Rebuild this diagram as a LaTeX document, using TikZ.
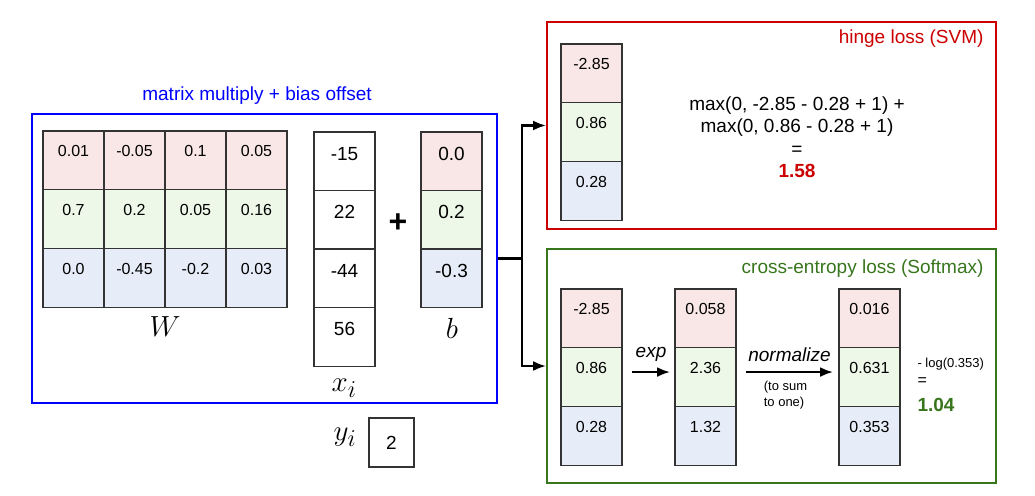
\documentclass[tikz,border=0pt]{standalone}
\usepackage{fontspec}
\setmainfont{Liberation Sans}
\usetikzlibrary{arrows.meta,positioning}
\definecolor{Ink}{HTML}{333333}
\definecolor{MmBlue}{HTML}{0000FF}
\definecolor{SvmRed}{HTML}{CC0000}
\definecolor{SmGreen}{HTML}{38761D}
\definecolor{TintR}{HTML}{F9E7E7}
\definecolor{TintG}{HTML}{EDF8E8}
\definecolor{TintB}{HTML}{E7EDF8}
\newcommand{\mlabel}[1]{\scalebox{1.17}{\fontsize{24.88}{26}\selectfont$#1$}}

\begin{document}
\begin{tikzpicture}[x=1pt,y=-1pt,
  cell/.style={draw=Ink,line width=1.2pt,fill=white,minimum width=61pt,minimum height=58.7pt,inner sep=0pt,outer sep=0pt,anchor=north,font=\fontsize{16}{18}\selectfont,text height=12pt,text depth=19pt},
  cellb/.style={cell,font=\fontsize{19}{22}\selectfont,text height=14pt,text depth=16pt},
  frm/.style={draw=#1,line width=2pt,inner sep=0pt},
  ttl/.style={font=\fontsize{19}{22}\selectfont},
  ln/.style={line width=2.2pt},
  a/.style={ln,-{Latex[length=13pt,width=10pt]}}]
  \useasboundingbox (0,0) rectangle (1035,495);
  % frames
  \node[frm=MmBlue,minimum width=465pt,minimum height=289pt] (mm) at (264.5,258.5) {};
  \node[frm=SvmRed,minimum width=449pt,minimum height=207pt] (svm) at (771.5,125.5) {};
  \node[frm=SmGreen,minimum width=449pt,minimum height=234pt] (sm) at (771.5,366) {};
  \node[ttl,text=MmBlue] (mmt) at (257,96) {matrix multiply + bias offset};
  \node[ttl,text=SvmRed,anchor=east] (svmt) at ([xshift=-10pt,yshift=-18pt]svm.north east) {hinge loss (SVM)};
  \node[ttl,text=SmGreen,anchor=east] (smt) at ([xshift=-10pt,yshift=-21pt]sm.north east) {cross-entropy loss (Softmax)};
  % W, x_i, b
  \foreach \tint/\vals [count=\row] in {TintR/{0.01,-0.05,0.1,0.05},TintG/{0.7,0.2,0.05,0.16},TintB/{0.0,-0.45,-0.2,0.03}}
    \foreach \v [count=\col] in \vals
      \node[cell,fill=\tint] (w\row\col) at ({12.5+61*\col},{131+58.7*(\row-1)}) {\v};
  \foreach \v [count=\row] in {-15,22,-44,56}
    \node[cellb] (x\row) at (344.5,{132+58.5*(\row-1)}) {\v};
  \foreach \v/\tint [count=\row] in {0.0/TintR,0.2/TintG,-0.3/TintB}
    \node[cellb,fill=\tint] (b\row) at (451.5,{132+58.5*(\row-1)}) {\v};
  \node[font=\fontsize{32}{34}\selectfont\bfseries] (plus) at (398,223) {+};
  \node (wl) at (165,327) {\mlabel{W}}; \node (xl) at (344,388) {\mlabel{x_i}}; \node (bl) at (452,328) {\mlabel{b}};
  \node (yl) at (345,437) {\mlabel{y_i}};
  \node[draw=Ink,line width=1.2pt,minimum width=45pt,minimum height=49pt,font=\fontsize{19}{22}\selectfont] (yv) at (391.5,442.5) {2};
  % scores
  \foreach \v/\tint [count=\row] in {-2.85/TintR,0.86/TintG,0.28/TintB}
    \node[cell,fill=\tint] (sv\row) at (591.5,{44+58.7*(\row-1)}) {\v};
  \node[ttl,align=center,font=\fontsize{19}{22.5}\selectfont] (hl) at (797,137) {max(0, -2.85 - 0.28 + 1) +\\max(0, 0.86 - 0.28 + 1)\\=\\\textcolor{SvmRed}{\bfseries 1.58}};
  \foreach \v/\tint [count=\row] in {-2.85/TintR,0.86/TintG,0.28/TintB}
    \node[cell,fill=\tint] (ce\row) at (591.5,{289+58.7*(\row-1)}) {\v};
  \foreach \v/\tint [count=\row] in {0.058/TintR,2.36/TintG,1.32/TintB}
    \node[cell,fill=\tint] (ex\row) at (705.5,{289+58.7*(\row-1)}) {\v};
  \foreach \v/\tint [count=\row] in {0.016/TintR,0.631/TintG,0.353/TintB}
    \node[cell,fill=\tint] (pr\row) at (869.5,{289+58.7*(\row-1)}) {\v};
  \node[anchor=west,font=\fontsize{13}{15}\selectfont] (nll) at (914,364) {- log(0.353)};
  \node[anchor=west,font=\fontsize{16}{18}\selectfont] (eq) at (914,382) {=};
  \node[anchor=west,font=\fontsize{19}{22}\selectfont\bfseries,text=SmGreen] (ce) at (914,405) {1.04};
  % connectors
  \coordinate (split) at ([xshift=24pt]mm.east);
  \draw[ln] (mm.east) -- (split);
  \draw[a] (split) |- (svm.west);
  \draw[a] (split) |- (sm.west);
  \draw[a] ([xshift=10pt,yshift=5pt]ce2.east) -- node[above=6pt,ttl]{\itshape exp} ([xshift=-5pt,yshift=5pt]ex2.west);
  \draw[a] ([xshift=10pt,yshift=5pt]ex2.east) -- node[above=6pt,ttl]{\itshape normalize}
    node[below=5pt,xshift=-4pt,align=left,font=\fontsize{13}{16}\selectfont]{(to sum\\to one)} ([xshift=-6pt,yshift=5pt]pr2.west);
\end{tikzpicture}
\end{document}
